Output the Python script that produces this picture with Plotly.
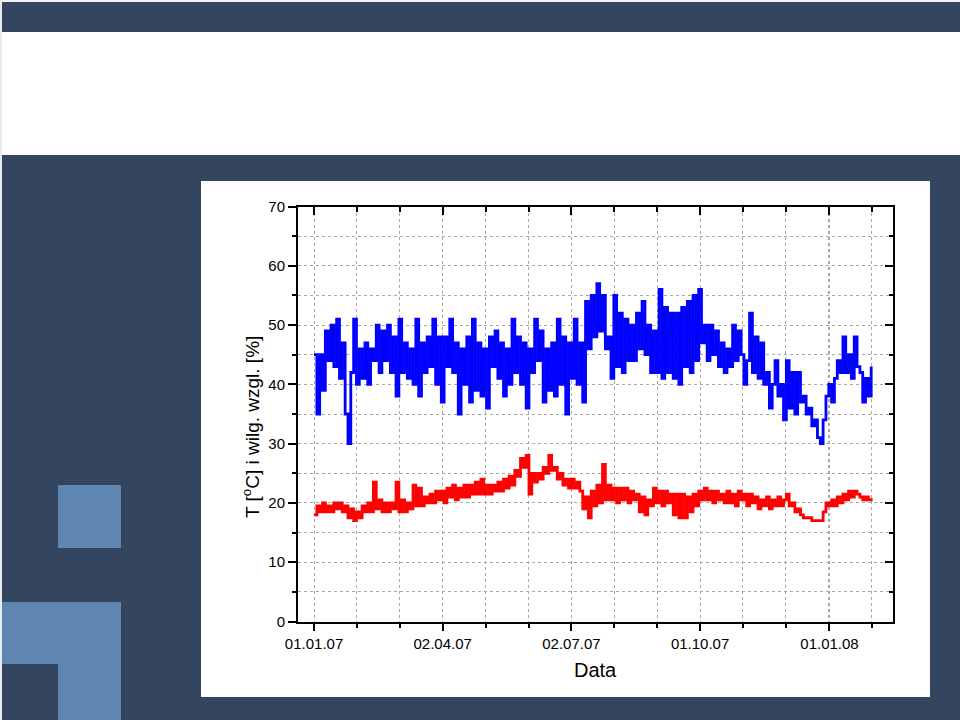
import plotly.graph_objects as go
import pandas as pd

# ---------------- data ----------------
start_date = "2007-01-01"
sample_step = "2D"

humidity = [
    45, 35, 45, 39, 49, 44, 50, 43, 51, 41,
    47, 35, 30, 42, 51, 40, 46, 41, 47, 40,
    46, 44, 50, 42, 49, 44, 50, 42, 48, 38,
    51, 42, 47, 41, 46, 40, 51, 38, 47, 42,
    48, 43, 51, 40, 48, 37, 48, 43, 51, 42,
    47, 35, 46, 40, 48, 37, 51, 39, 47, 38,
    46, 36, 48, 43, 49, 41, 47, 38, 46, 40,
    51, 42, 48, 40, 47, 36, 46, 42, 51, 44,
    49, 37, 46, 39, 47, 38, 51, 40, 48, 35,
    47, 41, 51, 40, 47, 37, 54, 46, 55, 48,
    57, 49, 55, 46, 48, 41, 55, 43, 52, 42,
    51, 44, 50, 44, 52, 46, 54, 45, 50, 42,
    49, 42, 56, 41, 53, 42, 52, 41, 52, 40,
    53, 43, 54, 42, 55, 44, 56, 47, 50, 44,
    50, 45, 49, 43, 47, 42, 46, 43, 50, 44,
    49, 45, 40, 44, 52, 42, 48, 41, 47, 40,
    42, 36, 40, 44, 38, 40, 34, 44, 36, 42,
    35, 42, 37, 38, 35, 36, 33, 34, 31, 30,
    34, 38, 40, 37, 41, 44, 42, 48, 42, 45,
    41, 48, 43, 42, 37, 41, 38, 43,
]

temperature = [
    18, 19.5, 18.5, 20, 18.5, 19.5, 18.5, 20, 19, 20,
    18.5, 19.5, 17.5, 19, 17, 18.5, 17.5, 19.5, 18.5, 20,
    18.5, 23.5, 19, 20.5, 18.5, 20, 18.5, 20, 19, 23.5,
    18.5, 20.5, 18.5, 20, 19, 23, 19.5, 22.5, 19.5, 21,
    20, 21.5, 20, 22, 20.5, 22, 20, 22.5, 21, 23,
    20.5, 22.5, 21, 23, 21, 23, 21.5, 23.5, 21.5, 24,
    21.5, 23, 21.5, 23, 22, 23.5, 22, 24, 22.5, 24.5,
    23, 25.5, 24.5, 27.5, 26, 28, 21.5, 25, 23.5, 25,
    24, 26, 25, 28, 25.5, 26, 24, 25, 23, 24,
    22.5, 24, 22.5, 23.5, 22, 19, 21, 17.5, 22, 19.5,
    23, 20, 26.5, 20.5, 23, 20.5, 22.5, 20, 22.5, 20.5,
    22.5, 20, 22, 20.5, 21.5, 18.5, 21, 18, 20.5, 19.5,
    22.5, 20, 22, 19.5, 22, 20, 21.5, 18, 21.5, 17.5,
    21.5, 17.5, 21, 18.5, 21.5, 19.5, 22, 20.5, 22.5, 20.5,
    22, 20, 22, 20.5, 21.5, 20, 22, 20, 21.5, 19.5,
    22, 20.5, 21.5, 19.5, 21.5, 20, 21, 19, 20.5, 19.5,
    21, 19, 20.5, 19.5, 21, 19.5, 20.5, 21.5, 19.5, 20,
    18.5, 19, 18, 17.5, 17.5, 17.5, 17, 17, 17, 17,
    18.5, 20, 19.5, 20.5, 19.5, 21, 20, 21.5, 20.5, 22,
    21, 22, 21.5, 21, 20.5, 21, 20.5, 20.8,
]

x_tick_dates = ["2007-01-01", "2007-04-02", "2007-07-02", "2007-10-01", "2007-12-31 12:00"]
x_tick_labels = ["01.01.07", "02.04.07", "02.07.07", "01.10.07", "01.01.08"]
x_range = ["2006-12-20 16:00", "2008-02-14 10:00"]
y_ticks = [0, 10, 20, 30, 40, 50, 60, 70]
y_range = [0, 70]
x_title = "Data"
y_title = "T [<sup>o</sup>C] i wilg. wzgl. [%]"

hum_dates = pd.date_range(start_date, periods=len(humidity), freq=sample_step)
tmp_dates = pd.date_range(start_date, periods=len(temperature), freq=sample_step)

# ---------------- figure ----------------
W, H = 960, 720
FONT = "Liberation Sans, Arial, sans-serif"
DARK = "#34465f"
LIGHT = "#5f86b1"
GRID = "#a8a8a8"


def px(x):
    return x / W


def py(y):
    return 1 - y / H


def rect(x0, y0, x1, y1, color):
    return dict(type="rect", xref="paper", yref="paper",
                x0=px(x0), x1=px(x1), y0=py(y1), y1=py(y0),
                fillcolor=color, line=dict(width=0), layer="below")


shapes = [
    rect(0, 0, 960, 2, "#f4f4f4"),
    rect(0, 0, 2, 720, "#e8ecf0"),
    rect(2, 32, 960, 155, "white"),
    rect(58, 485, 121, 548, LIGHT),
    rect(2, 602, 121, 664, LIGHT),
    rect(58, 664, 121, 720, LIGHT),
    rect(201, 181, 930, 697, "white"),
]

fig = go.Figure()
fig.add_trace(go.Scatter(x=hum_dates, y=humidity, mode="lines",
                         line=dict(color="#0000ff", width=2.8, shape="hv"),
                         showlegend=False))
fig.add_trace(go.Scatter(x=tmp_dates, y=temperature, mode="lines",
                         line=dict(color="#ff0000", width=2.8, shape="hv"),
                         showlegend=False))
fig.add_trace(go.Scatter(x=[], y=[], xaxis="x2", yaxis="y2", showlegend=False,
                         hoverinfo="skip"))

minor_dtick = 91 / 3 * 24 * 3600 * 1000

fig.update_layout(
    width=W, height=H, autosize=False,
    margin=dict(l=0, r=0, t=0, b=0, pad=0, autoexpand=False),
    paper_bgcolor=DARK, plot_bgcolor="white",
    font=dict(family=FONT, color="black", size=15),
    shapes=shapes,
    showlegend=False,
    xaxis=dict(
        domain=[px(298), px(893)], anchor="y", type="date", range=x_range,
        automargin=False,
        tickmode="array", tickvals=x_tick_dates, ticktext=x_tick_labels,
        ticks="outside", ticklen=7, tickwidth=1.5, tickcolor="black",
        showline=True, linewidth=2, linecolor="black", mirror=False,
        showgrid=True, gridcolor=GRID, griddash="dot", gridwidth=1,
        zeroline=False, tickfont=dict(size=15),
        minor=dict(tick0="2007-01-01", dtick=minor_dtick, ticks="outside",
                   ticklen=4, tickwidth=1.5, tickcolor="black",
                   showgrid=True, gridcolor=GRID, griddash="dot", gridwidth=1),
    ),
    yaxis=dict(
        domain=[py(621.5), py(206.5)], anchor="x", range=y_range,
        automargin=False,
        tickmode="array", tickvals=y_ticks,
        ticks="outside", ticklen=8, tickwidth=1.5, tickcolor="black",
        showline=True, linewidth=2, linecolor="black", mirror=False,
        showgrid=True, gridcolor=GRID, griddash="dot", gridwidth=1,
        zeroline=False, tickfont=dict(size=15),
        minor=dict(dtick=5, tick0=0, ticks="outside", ticklen=4, tickwidth=1.5,
                   tickcolor="black", showgrid=True, gridcolor=GRID,
                   griddash="dot", gridwidth=1),
    ),
    xaxis2=dict(
        overlaying="x", side="top", anchor="y", type="date", range=x_range,
        automargin=False,
        tickmode="array", tickvals=x_tick_dates, showticklabels=False,
        ticks="inside", ticklen=8, tickwidth=1.5, tickcolor="black",
        showline=True, linewidth=2, linecolor="black", showgrid=False,
        zeroline=False,
        minor=dict(tick0="2007-01-01", dtick=minor_dtick, ticks="inside",
                   ticklen=5, tickwidth=1.5, tickcolor="black", showgrid=False),
    ),
    yaxis2=dict(
        overlaying="y", side="right", anchor="x", range=y_range,
        automargin=False,
        tickmode="array", tickvals=y_ticks, showticklabels=False,
        ticks="inside", ticklen=8, tickwidth=1.5, tickcolor="black",
        showline=True, linewidth=2, linecolor="black", showgrid=False,
        zeroline=False,
        minor=dict(dtick=5, tick0=0, ticks="inside", ticklen=4, tickwidth=1.5,
                   tickcolor="black", showgrid=False),
    ),
    annotations=[
        dict(text=x_title, xref="paper", yref="paper", x=px(595), y=py(670),
             showarrow=False, font=dict(size=20), xanchor="center", yanchor="middle"),
        dict(text=y_title, xref="paper", yref="paper", x=px(251), y=py(427),
             showarrow=False, font=dict(size=19), textangle=-90,
             xanchor="center", yanchor="middle"),
    ],
)

fig.write_html(
    "out.html",
    config={"displayModeBar": False},
    post_script="document.body.style.margin='0px';"
                "document.documentElement.style.margin='0px';",
)
